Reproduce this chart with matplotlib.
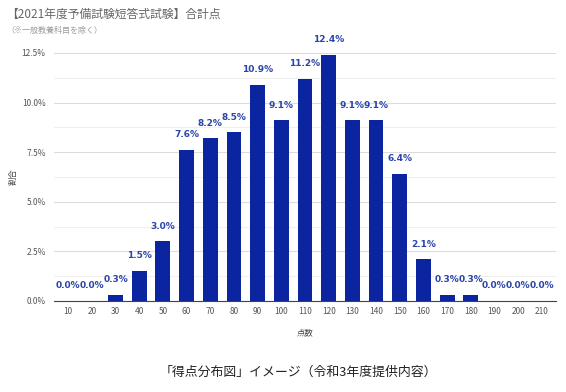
import matplotlib
matplotlib.use('Agg')
import matplotlib.pyplot as plt
from matplotlib.ticker import MultipleLocator, FuncFormatter

plt.rcParams['font.family'] = ['Noto Sans CJK JP', 'DejaVu Sans']

scores = [10, 20, 30, 40, 50, 60, 70, 80, 90, 100, 110, 120, 130, 140, 150,
          160, 170, 180, 190, 200, 210]
ratios = [0.0, 0.0, 0.3, 1.5, 3.0, 7.6, 8.2, 8.5, 10.9, 9.1, 11.2, 12.4, 9.1,
          9.1, 6.4, 2.1, 0.3, 0.3, 0.0, 0.0, 0.0]

title = '【2021年度予備試験短答式試験】合計点'
subtitle = '（※一般教養科目を除く）'
caption = '「得点分布図」イメージ（令和3年度提供内容）'

W, H = 566, 392
fig = plt.figure(figsize=(W / 100, H / 100), dpi=100)
ax = fig.add_axes([54 / W, 1 - 301 / H, (556 - 54) / W, (301 - 53) / H])

x = list(range(len(scores)))
ax.bar(x, ratios, width=0.63, color='#0b24a0', zorder=3)

for xi, v in zip(x, ratios):
    ax.annotate(f'{v:.1f}%', (xi, v), xytext=(0, 11), textcoords='offset points',
                ha='center', va='center', fontsize=6.5, fontweight='bold',
                color='#2a45aa', family='DejaVu Sans', annotation_clip=False)

ax.set_xlim(-0.6, len(scores) - 0.4)
ax.set_ylim(0, 12.5)
ax.yaxis.set_major_locator(MultipleLocator(2.5))
ax.yaxis.set_minor_locator(MultipleLocator(1.25))
ax.yaxis.set_major_formatter(FuncFormatter(lambda v, p: f'{v:.1f}%'))
ax.grid(axis='y', which='major', color='#dcdcdc', linewidth=0.8, zorder=0)
ax.grid(axis='y', which='minor', color='#efefef', linewidth=0.8, zorder=0)

ax.set_xticks(x)
ax.set_xticklabels([str(s) for s in scores])
ax.tick_params(axis='both', which='both', length=0, labelsize=6, colors='#555555', pad=4)
ax.tick_params(axis='y', pad=6)

for s in ['top', 'right', 'left']:
    ax.spines[s].set_visible(False)
ax.spines['bottom'].set_color('#444444')
ax.spines['bottom'].set_linewidth(0.8)
ax.spines['bottom'].set_zorder(4)

ax.set_xlabel('点数', fontsize=6, color='#444444')
ax.set_ylabel('割合', fontsize=6, color='#444444')
ax.xaxis.set_label_coords(0.5, (301 - 328) / 248)
ax.yaxis.set_label_coords((18 - 54) / 502, 0.5)

fig.text(6 / W, 1 - 14 / H, title, fontsize=8.5, color='#666666', va='center', ha='left')
fig.text(6 / W, 1 - 30 / H, subtitle, fontsize=5.8, color='#999999', va='center', ha='left')
fig.text(160 / W, 1 - 372 / H, caption, fontsize=9.3, color='#222222', va='center', ha='left')

fig.savefig('out.png', dpi=100)
